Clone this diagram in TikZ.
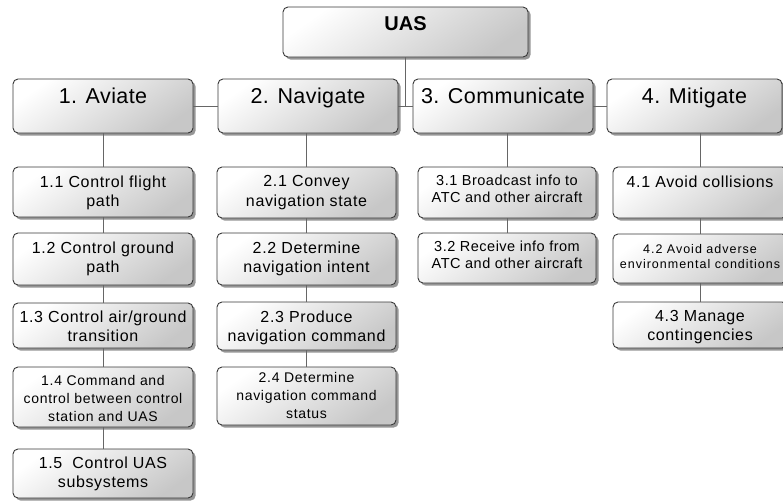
\documentclass[tikz,border=0pt]{standalone}
\usepackage{fontspec}
\setmainfont{Liberation Sans}
\usetikzlibrary{shadows}

\tikzset{
  fbox/.style={draw=black!78, line width=0.9pt, rounded corners=5pt,
    top color=white, bottom color=black!22, shading angle=35,
    drop shadow={shadow xshift=2.6pt, shadow yshift=-2.6pt, fill=black!55, opacity=0.75},
    inner sep=0pt, outer sep=0pt},
  link/.style={draw=black!60, line width=0.9pt},
  ttop/.style={anchor=north, inner sep=0pt, align=center, text=black},
  troot/.style={ttop, font=\bfseries\fontsize{20}{22}\selectfont},
  tmain/.style={ttop, font=\fontsize{21.5}{24}\selectfont\addfontfeature{LetterSpace=2}},
  titem/.style={ttop, font=\fontsize{16}{19.5}\selectfont\addfontfeature{LetterSpace=4}},
  tsmall/.style={ttop, font=\fontsize{14}{18}\selectfont\addfontfeature{LetterSpace=5}},
  tmid/.style={ttop, font=\fontsize{14.5}{17}\selectfont\addfontfeature{LetterSpace=3.5}},
  ttiny/.style={ttop, font=\fontsize{12.5}{15.5}\selectfont\addfontfeature{LetterSpace=8}},
}

\begin{document}
\begin{tikzpicture}[x=1pt, y=1pt]
\useasboundingbox (0,0) rectangle (783,-501);
\clip (0,0) rectangle (783,-501);

% root
\node[fbox, minimum width=245pt, minimum height=50pt] (uas) at (405.5,-32) {};

% top-level functions
\node[fbox, minimum width=180pt, minimum height=54pt] (av) at (103,-106) {};
\node[fbox, minimum width=180pt, minimum height=54pt] (nv) at (308,-106) {};
\node[fbox, minimum width=180pt, minimum height=54pt] (cm) at (503,-106) {};
\node[fbox, minimum width=175pt, minimum height=54pt] (mt) at (694.5,-106) {};

% 1. Aviate
\node[fbox, minimum width=180pt, minimum height=50pt] (a1) at (103,-192) {};
\node[fbox, minimum width=180pt, minimum height=52pt] (a2) at (103,-259) {};
\node[fbox, minimum width=180pt, minimum height=45pt] (a3) at (103,-325.5) {};
\node[fbox, minimum width=180pt, minimum height=60pt] (a4) at (103,-397) {};
\node[fbox, minimum width=180pt, minimum height=49pt] (a5) at (103,-473.5) {};

% 2. Navigate
\node[fbox, minimum width=179pt, minimum height=51pt] (n1) at (306.5,-192.5) {};
\node[fbox, minimum width=179pt, minimum height=52pt] (n2) at (306.5,-259) {};
\node[fbox, minimum width=179pt, minimum height=48pt] (n3) at (306.5,-326) {};
\node[fbox, minimum width=179pt, minimum height=58pt] (n4) at (306.5,-396) {};

% 3. Communicate
\node[fbox, minimum width=178pt, minimum height=51pt] (c1) at (507,-192.5) {};
\node[fbox, minimum width=178pt, minimum height=50pt] (c2) at (507,-258) {};

% 4. Mitigate
\node[fbox, minimum width=174pt, minimum height=51pt] (m1) at (700,-192.5) {};
\node[fbox, minimum width=174pt, minimum height=49pt] (m2) at (700,-258.5) {};
\node[fbox, minimum width=174pt, minimum height=46pt] (m3) at (700,-325) {};

% labels
\node[troot] (uast) at ([yshift=-9.5pt]uas.north) {UAS};
\node[tmain] (avt) at ([yshift=-9pt]av.north) {1. Aviate};
\node[tmain] (nvt) at ([yshift=-9pt]nv.north) {2. Navigate};
\node[tmain] (cmt) at ([yshift=-9pt]cm.north) {3. Communicate};
\node[tmain] (mtt) at ([yshift=-9pt]mt.north) {4. Mitigate};

\node[titem] (a1t) at ([yshift=-8.5pt]a1.north) {1.1 Control flight\\path};
\node[titem] (a2t) at ([yshift=-8.5pt]a2.north) {1.2 Control ground\\path};
\node[titem] (a3t) at ([yshift=-7.5pt]a3.north) {1.3 Control air/ground\\transition};
\node[tsmall] (a4t) at ([yshift=-8pt]a4.north) {1.4 Command and\\control between control\\station and UAS};
\node[titem] (a5t) at ([yshift=-7.5pt]a5.north) {1.5\ \ Control UAS\\subsystems};

\node[titem] (n1t) at ([yshift=-8.5pt]n1.north) {2.1 Convey\\navigation state};
\node[titem] (n2t) at ([yshift=-8.5pt]n2.north) {2.2 Determine\\navigation intent};
\node[titem] (n3t) at ([yshift=-8.5pt]n3.north) {2.3 Produce\\navigation command};
\node[tsmall] (n4t) at ([yshift=-5.5pt]n4.north) {2.4 Determine\\navigation command\\status};

\node[tmid] (c1t) at ([yshift=-7.5pt]c1.north) {3.1 Broadcast info to\\ATC and other aircraft};
\node[tmid] (c2t) at ([yshift=-8pt]c2.north) {3.2 Receive info from\\ATC and other aircraft};

\node[titem] (m1t) at ([yshift=-8.5pt]m1.north) {4.1 Avoid collisions};
\node[ttiny] (m2t) at ([yshift=-10pt]m2.north) {4.2 Avoid adverse\\environmental conditions};
\node[titem] (m3t) at ([yshift=-8pt]m3.north) {4.3 Manage\\contingencies};

% connectors
\draw[link] (uas.south) -- (uas.south |- nv.east);
\draw[link] (av.east) -- (nv.west);
\draw[link] (nv.east) -- (cm.west);
\draw[link] (cm.east) -- (mt.west);

\draw[link] (av.south) -- (a1.north);
\draw[link] (a1.south) -- (a2.north);
\draw[link] (a2.south) -- (a3.north);
\draw[link] (a3.south) -- (a4.north);
\draw[link] (a4.south) -- (a5.north);

\draw[link] (nv.south -| n1.north) -- (n1.north);
\draw[link] (n1.south) -- (n2.north);
\draw[link] (n2.south) -- (n3.north);
\draw[link] (n3.south) -- (n4.north);

\draw[link] (cm.south -| c1.north) -- (c1.north);
\draw[link] (c1.south) -- (c2.north);

\draw[link] (mt.south -| m1.north) -- (m1.north);
\draw[link] (m1.south) -- (m2.north);
\draw[link] (m2.south) -- (m3.north);
\end{tikzpicture}
\end{document}
